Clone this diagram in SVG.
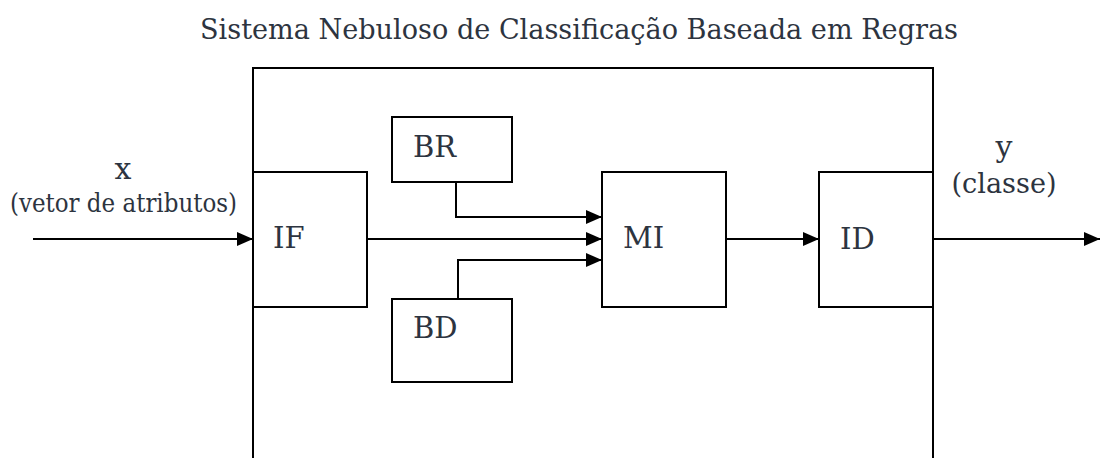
<svg xmlns="http://www.w3.org/2000/svg" width="1100" height="458" viewBox="0 0 1100 458">
<defs>
<marker id="ah" markerUnits="userSpaceOnUse" markerWidth="16" markerHeight="14" refX="16" refY="7" orient="auto">
<path d="M0,0 L16,7 L0,14 z" fill="#000"/>
</marker>
<style>
.box{fill:#fff;stroke:#000;stroke-width:2}
.ln{fill:none;stroke:#000;stroke-width:2}
.ar{fill:none;stroke:#000;stroke-width:2;marker-end:url(#ah)}
text{font-family:"DejaVu Serif","Liberation Serif",serif;fill:#2d3440}
.lb{font-size:29px}
</style>
</defs>
<rect width="1100" height="458" fill="#fff"/>
<text x="579" y="39" font-size="28" text-anchor="middle" textLength="758" lengthAdjust="spacingAndGlyphs">Sistema Nebuloso de Classificação Baseada em Regras</text>
<g id="system">
<path class="ln" d="M253,470 V68 H933 V470"/>
</g>
<g id="IF"><rect class="box" x="253" y="172" width="114" height="135"/><text class="lb" x="273" y="248">IF</text></g>
<g id="BR"><rect class="box" x="392" y="117" width="120" height="65"/><text class="lb" x="413" y="157">BR</text></g>
<g id="BD"><rect class="box" x="392" y="299" width="120" height="83"/><text class="lb" x="413" y="338">BD</text></g>
<g id="MI"><rect class="box" x="602" y="172" width="124" height="135"/><text class="lb" x="623" y="248">MI</text></g>
<g id="ID"><rect class="box" x="819" y="172" width="114" height="135"/><text class="lb" x="840" y="249">ID</text></g>
<g id="connectors">
<path class="ar" d="M33,239 H253"/>
<path class="ar" d="M367,239 H602"/>
<path class="ar" d="M456,182 V217 H602"/>
<path class="ar" d="M458,299 V260 H602"/>
<path class="ar" d="M726,239 H819"/>
<path class="ar" d="M933,239 H1100"/>
</g>
<g id="labels">
<text x="123" y="179" font-size="30" text-anchor="middle">x</text>
<text x="123.5" y="212" font-size="26" text-anchor="middle" textLength="227" lengthAdjust="spacingAndGlyphs">(vetor de atributos)</text>
<text x="1004" y="157" font-size="30" text-anchor="middle">y</text>
<text x="1004" y="193" font-size="27" text-anchor="middle" textLength="105" lengthAdjust="spacingAndGlyphs">(classe)</text>
</g>
</svg>
